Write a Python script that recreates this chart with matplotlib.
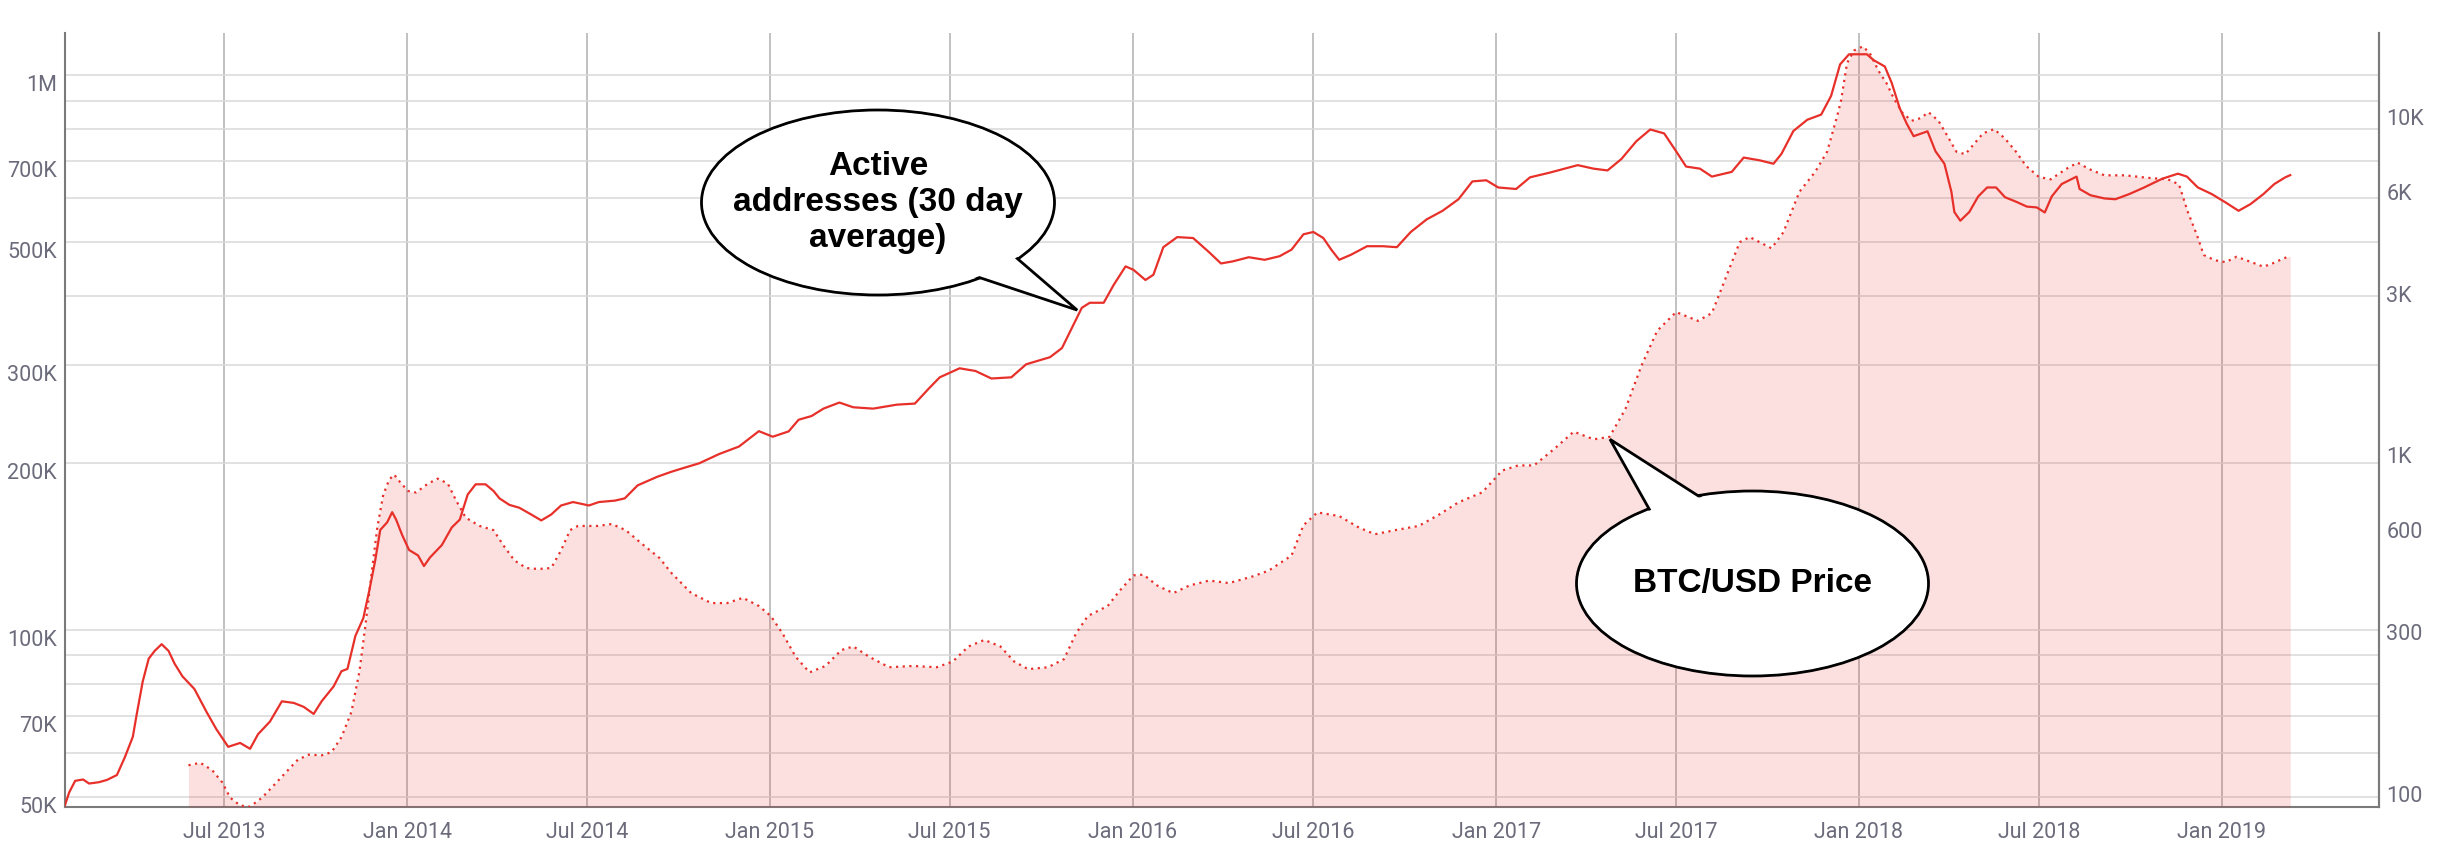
import matplotlib
matplotlib.use("Agg")
import matplotlib.pyplot as plt
import matplotlib.dates as mdates
import matplotlib.ticker as mticker
from matplotlib.patches import Ellipse, Polygon
from matplotlib.transforms import ScaledTranslation
import pandas as pd

# active addresses, 30 day average (thousands)
active_dates = [
    "2013-01-21", "2013-01-26", "2013-02-01", "2013-02-09", "2013-02-15", "2013-02-25",
    "2013-03-05", "2013-03-15", "2013-03-23", "2013-03-31", "2013-04-04", "2013-04-10",
    "2013-04-16", "2013-04-22", "2013-04-29", "2013-05-06", "2013-05-12", "2013-05-20",
    "2013-06-01", "2013-06-13", "2013-06-23", "2013-07-05", "2013-07-17", "2013-07-27",
    "2013-08-04", "2013-08-16", "2013-08-28", "2013-09-09", "2013-09-19", "2013-09-29",
    "2013-10-07", "2013-10-19", "2013-10-27", "2013-11-02", "2013-11-10", "2013-11-18",
    "2013-11-24", "2013-11-30", "2013-12-05", "2013-12-12", "2013-12-17", "2013-12-21",
    "2013-12-27", "2014-01-03", "2014-01-12", "2014-01-18", "2014-01-24", "2014-02-05",
    "2014-02-15", "2014-02-23", "2014-03-03", "2014-03-11", "2014-03-21", "2014-03-29",
    "2014-04-04", "2014-04-14", "2014-04-24", "2014-05-06", "2014-05-16", "2014-05-26",
    "2014-06-05", "2014-06-17", "2014-07-03", "2014-07-13", "2014-07-29", "2014-08-08",
    "2014-08-21", "2014-09-10", "2014-09-24", "2014-10-02", "2014-10-22", "2014-11-11",
    "2014-12-01", "2014-12-21", "2015-01-04", "2015-01-20", "2015-01-30", "2015-02-12",
    "2015-02-24", "2015-03-12", "2015-03-26", "2015-04-15", "2015-05-09", "2015-05-27",
    "2015-06-10", "2015-06-21", "2015-07-11", "2015-07-27", "2015-08-12", "2015-09-01",
    "2015-09-16", "2015-10-10", "2015-10-22", "2015-11-01", "2015-11-11", "2015-11-19",
    "2015-12-03", "2015-12-13", "2015-12-25", "2016-01-02", "2016-01-14", "2016-01-22",
    "2016-02-01", "2016-02-15", "2016-03-02", "2016-03-18", "2016-03-30", "2016-04-11",
    "2016-04-27", "2016-05-13", "2016-05-28", "2016-06-09", "2016-06-21", "2016-07-01",
    "2016-07-11", "2016-07-19", "2016-07-27", "2016-08-08", "2016-08-24", "2016-09-09",
    "2016-09-23", "2016-10-07", "2016-10-23", "2016-11-08", "2016-11-24", "2016-12-08",
    "2016-12-22", "2017-01-03", "2017-01-21", "2017-02-04", "2017-02-24", "2017-03-24",
    "2017-04-09", "2017-04-23", "2017-05-07", "2017-05-22", "2017-06-05", "2017-06-19",
    "2017-07-01", "2017-07-11", "2017-07-25", "2017-08-06", "2017-08-26", "2017-09-07",
    "2017-09-23", "2017-10-07", "2017-10-15", "2017-10-27", "2017-11-10", "2017-11-24",
    "2017-12-04", "2017-12-13", "2017-12-22", "2018-01-09", "2018-01-16", "2018-01-27",
    "2018-02-03", "2018-02-11", "2018-02-18", "2018-02-25", "2018-03-11", "2018-03-19",
    "2018-03-28", "2018-04-04", "2018-04-07", "2018-04-13", "2018-04-22", "2018-05-01",
    "2018-05-10", "2018-05-19", "2018-05-28", "2018-06-08", "2018-06-19", "2018-06-29",
    "2018-07-07", "2018-07-14", "2018-07-24", "2018-08-08", "2018-08-11", "2018-08-22",
    "2018-09-05", "2018-09-16", "2018-09-30", "2018-10-15", "2018-11-02", "2018-11-18",
    "2018-11-27", "2018-12-08", "2018-12-22", "2019-01-05", "2019-01-18", "2019-01-30",
    "2019-02-12", "2019-02-23", "2019-03-06", "2019-03-11",
]
active_k = [
    47.8, 50.9, 53.4, 53.7, 52.8, 53.1,
    53.6, 54.7, 58.9, 64.1, 70.5, 80.7,
    88.7, 91.6, 94.2, 91.6, 86.9, 82.4,
    78.2, 71.2, 66.2, 61.5, 62.5, 61.0,
    64.8, 68.3, 74.3, 73.8, 72.6, 70.5,
    74.3, 79.0, 84.2, 85.0, 97.5, 105,
    117.8, 133.6, 151.4, 156.3, 163, 158,
    148.3, 139.3, 136.2, 130.3, 135, 142.2,
    153, 158, 175.4, 183, 183, 178,
    172.6, 168, 166, 161.4, 157.5, 161.4,
    167.6, 170, 167.6, 170, 171, 172.6,
    182.2, 188.9, 192.8, 194.8, 199.7, 207.5,
    214.1, 228.2, 223, 228, 239.3, 243,
    250.6, 257, 252, 250.6, 254.8, 255.9,
    272.4, 285.4, 296.3, 293, 284, 285.4,
    301.3, 310.3, 322.3, 350.5, 381, 389,
    389, 418.8, 452.5, 446, 427.6, 437,
    490, 511, 509, 480, 458, 462,
    470, 465, 472, 485, 517, 522,
    509, 485, 465, 475, 492, 492,
    490, 522, 550, 570, 598, 644,
    647, 628, 624, 655, 668, 689,
    679, 674, 707, 761, 799, 786,
    730, 685, 679, 657, 670, 711,
    703, 693, 722, 794, 832, 850,
    919, 1047, 1092, 1092, 1065, 1038,
    969, 873, 819, 777, 793, 730,
    693, 617, 567, 547, 567, 605,
    628, 628, 603, 592, 580, 578,
    566, 605, 637, 657, 624, 608,
    600, 598, 611, 628, 651, 665,
    657, 628, 611, 590, 570, 586,
    611, 637, 655, 661,
]

# BTC/USD price, 30 day average
price_dates = [
    "2013-05-26", "2013-06-07", "2013-06-19", "2013-06-29", "2013-07-07", "2013-07-17",
    "2013-07-27", "2013-08-08", "2013-08-20", "2013-09-01", "2013-09-13", "2013-09-24",
    "2013-10-07", "2013-10-17", "2013-10-27", "2013-11-06", "2013-11-14", "2013-11-20",
    "2013-11-26", "2013-12-02", "2013-12-08", "2013-12-14", "2013-12-19", "2013-12-25",
    "2014-01-02", "2014-01-10", "2014-01-22", "2014-02-01", "2014-02-11", "2014-02-19",
    "2014-03-01", "2014-03-15", "2014-03-29", "2014-04-08", "2014-04-19", "2014-05-01",
    "2014-05-13", "2014-05-26", "2014-06-05", "2014-06-14", "2014-06-22", "2014-07-12",
    "2014-07-26", "2014-08-09", "2014-08-24", "2014-09-12", "2014-09-24", "2014-10-14",
    "2014-11-03", "2014-11-19", "2014-12-05", "2014-12-21", "2015-01-02", "2015-01-14",
    "2015-01-27", "2015-02-10", "2015-02-26", "2015-03-14", "2015-03-26", "2015-04-11",
    "2015-05-01", "2015-05-25", "2015-06-18", "2015-07-04", "2015-07-20", "2015-08-05",
    "2015-08-21", "2015-09-04", "2015-09-18", "2015-10-08", "2015-10-24", "2015-11-05",
    "2015-11-17", "2015-12-07", "2015-12-19", "2016-01-02", "2016-01-12", "2016-01-26",
    "2016-02-11", "2016-02-27", "2016-03-18", "2016-04-07", "2016-05-01", "2016-05-17",
    "2016-06-09", "2016-06-21", "2016-07-05", "2016-07-27", "2016-08-16", "2016-09-01",
    "2016-09-21", "2016-10-15", "2016-11-04", "2016-11-24", "2016-12-18", "2017-01-07",
    "2017-01-23", "2017-02-08", "2017-02-28", "2017-03-20", "2017-04-09", "2017-04-25",
    "2017-05-11", "2017-05-27", "2017-06-12", "2017-07-01", "2017-07-23", "2017-08-06",
    "2017-08-18", "2017-09-03", "2017-09-13", "2017-10-05", "2017-10-17", "2017-11-02",
    "2017-11-18", "2017-11-30", "2017-12-10", "2017-12-14", "2017-12-20", "2017-12-27",
    "2018-01-05", "2018-01-12", "2018-01-21", "2018-01-29", "2018-02-05", "2018-02-14",
    "2018-02-23", "2018-03-04", "2018-03-12", "2018-03-22", "2018-03-31", "2018-04-09",
    "2018-04-18", "2018-04-27", "2018-05-06", "2018-05-17", "2018-05-28", "2018-06-08",
    "2018-06-18", "2018-07-01", "2018-07-13", "2018-07-28", "2018-08-09", "2018-08-21",
    "2018-09-05", "2018-09-26", "2018-10-18", "2018-11-08", "2018-11-19", "2018-11-28",
    "2018-12-07", "2018-12-14", "2018-12-25", "2019-01-05", "2019-01-16", "2019-01-31",
    "2019-02-12", "2019-02-23", "2019-03-04", "2019-03-11",
]
price_usd = [
    118, 120, 114, 105, 94.6, 89.7,
    89, 94.6, 103, 112.4, 122.5, 126.8,
    126.2, 129, 142.9, 169.7, 223, 304.5,
    429.4, 595, 744, 825, 854, 811,
    764, 756, 803, 831, 803, 719,
    637, 602, 585, 527, 476, 452,
    449, 452, 510, 585, 602, 602,
    610, 585, 537, 484, 437, 381,
    356, 356, 369, 349, 326, 289,
    247, 222, 232, 258.5, 265, 247,
    230, 232, 230, 239, 265, 277,
    265, 239, 227, 230, 243, 289,
    326, 349, 387, 430, 432, 401,
    381, 401, 415, 408, 427, 444,
    492, 605, 660, 644, 595, 569,
    585, 602, 649, 707, 757, 878,
    909, 909, 1015, 1144, 1086, 1104,
    1335, 1789, 2274, 2583, 2433, 2565,
    3153, 4156, 4306, 3988, 4450, 5854,
    6714, 7702, 9797, 10914, 14070, 15336,
    15775, 15045, 13312, 12237, 11073, 10013,
    9505, 9674, 10075, 9505, 8574, 7702,
    7567, 8130, 8730, 8978, 8420, 7702,
    6997, 6485, 6377, 6832, 7146, 6832,
    6555, 6555, 6447, 6377, 6165, 5103,
    4374, 3810, 3677, 3629, 3765, 3629,
    3517, 3616, 3720, 3783,
]

left_ticks = [50e3, 70e3, 100e3, 200e3, 300e3, 500e3, 700e3, 1e6]
left_labels = ["50K", "70K", "100K", "200K", "300K", "500K", "700K", "1M"]
left_minor = [60e3, 80e3, 90e3, 400e3, 600e3, 800e3, 900e3]
right_ticks = [100, 300, 600, 1000, 3000, 6000, 10000]
right_labels = ["100", "300", "600", "1K", "3K", "6K", "10K"]

RED = "#e8302a"
TICK = "#6b6b7b"
W, H = 2452, 850

plt.rcParams["font.family"] = ["Roboto", "DejaVu Sans"]

fig = plt.figure(figsize=(W / 100, H / 100), dpi=100)
ax = fig.add_axes([0.0264, 0.0506, 0.9437, 0.9106])

active = pd.Series(active_k, index=pd.to_datetime(active_dates)) * 1000
price = pd.Series(price_usd, index=pd.to_datetime(price_dates))

ax.set_yscale("log")
ax.plot(active.index, active.values, color=RED, lw=1.6, zorder=3)
ax.set_ylim(47.9e3, 1.193e6)
ax.set_xlim(pd.Timestamp("2013-01-21 12:00"), pd.Timestamp("2019-06-08"))

ax2 = ax.twinx()
ax2.set_yscale("log")
pmin = 88.8
ax2.fill_between(price.index, price.values, pmin, color=RED, alpha=0.15, lw=0)
ax2.plot(price.index, price.values, color=RED, lw=1.6, ls=(0, (1, 2)))
ax2.set_ylim(pmin, 17280)

ax.set_yticks(left_ticks, left_labels)
ax.set_yticks(left_minor, minor=True)
ax.yaxis.set_minor_formatter(mticker.NullFormatter())
ax2.set_yticks(right_ticks, right_labels)
ax2.yaxis.set_minor_locator(mticker.NullLocator())

ax.xaxis.set_major_locator(mdates.MonthLocator(bymonth=[1, 7]))
ax.xaxis.set_major_formatter(mdates.DateFormatter("%b %Y"))

ax.grid(axis="y", which="both", color="#d9d9d9", lw=1.1)
ax.grid(axis="x", which="major", color="#b0b0b0", lw=1.1)
ax.set_axisbelow(True)

for a in (ax, ax2):
    a.tick_params(axis="both", which="both", length=0, labelsize=15.5, labelcolor=TICK)
ax.tick_params(axis="x", pad=11)
ax.tick_params(axis="y", pad=5.5)
ax2.tick_params(axis="y", pad=5.5)

# the labels sit a little below their gridlines in the original
for lbl in ax.get_yticklabels():
    lbl.set_transform(lbl.get_transform() + ScaledTranslation(0, -0.08, fig.dpi_scale_trans))
for lbl in ax2.get_yticklabels():
    lbl.set_transform(lbl.get_transform() + ScaledTranslation(0, -0.04, fig.dpi_scale_trans))

for s in ("left", "bottom", "right"):
    ax.spines[s].set_color("#7a7a7a")
    ax.spines[s].set_linewidth(1.5)
ax.spines["top"].set_visible(False)
for s in ("top", "left", "bottom"):
    ax2.spines[s].set_visible(False)
ax2.spines["right"].set_color("#7a7a7a")
ax2.spines["right"].set_linewidth(1.5)


def to_fig(x, y):
    return (x / W, 1 - y / H)


def bubble(cx, cy, w, h, tail, text):
    fig.add_artist(Ellipse(to_fig(cx, cy), w / W, h / H, transform=fig.transFigure,
                           facecolor="white", edgecolor="black", lw=2, zorder=10))
    b1, tip, b2 = tail
    pts = [to_fig(cx + 0.85 * (b1[0] - cx), cy + 0.85 * (b1[1] - cy)),
           to_fig(*tip),
           to_fig(cx + 0.85 * (b2[0] - cx), cy + 0.85 * (b2[1] - cy))]
    fig.add_artist(Polygon(pts, closed=True, transform=fig.transFigure, facecolor="white",
                           edgecolor="black", lw=2, joinstyle="miter", zorder=11))
    fig.add_artist(Ellipse(to_fig(cx, cy), (w - 4) / W, (h - 4) / H, transform=fig.transFigure,
                           facecolor="white", edgecolor="none", zorder=12))
    fig.text(*to_fig(cx, cy), text, ha="center", va="center", fontsize=24,
             fontweight="bold", family=["Liberation Sans", "DejaVu Sans"],
             linespacing=1.2, zorder=13)


bubble(878, 202.5, 353, 185, [(1023.8, 252.9), (1077.2, 310.1), (970.4, 281.8)],
       "Active\naddresses (30 day\naverage)")
bubble(1752.5, 583.5, 352, 185, [(1706.8, 492), (1610, 439.3), (1639.6, 511.3)],
       "BTC/USD Price")

fig.savefig("out.png", dpi=100)
